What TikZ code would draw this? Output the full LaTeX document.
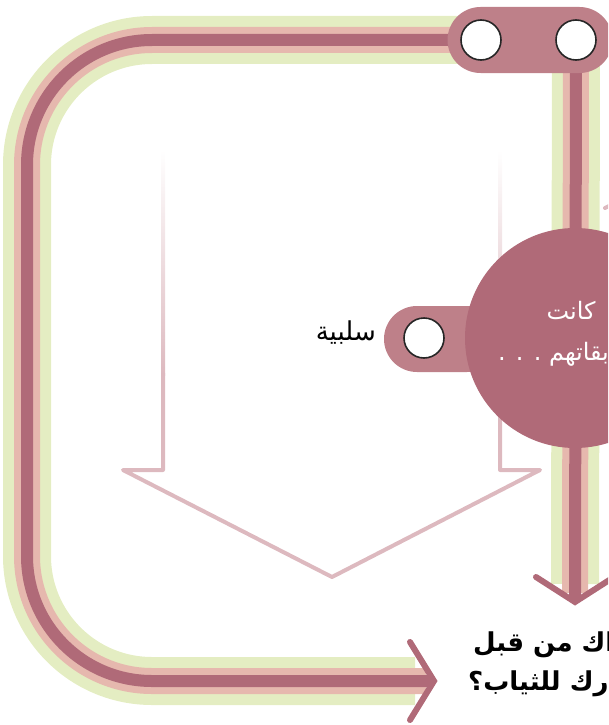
\documentclass[tikz,border=0pt]{standalone}
\usepackage{fontspec}
\usepackage{tikz}
\usetikzlibrary{positioning,backgrounds}
\TeXXeTstate=1
\newfontfamily\arabicfont[Script=Arabic]{DejaVu Sans}
\definecolor{bandgreen}{RGB}{228,237,194}
\definecolor{bandpink}{RGB}{230,184,174}
\definecolor{banddark}{RGB}{176,106,120}
\definecolor{pillrose}{RGB}{190,128,137}
\definecolor{arrowrose}{RGB}{221,185,191}

\begin{document}
\begin{tikzpicture}[x=1pt,y=-1pt,
  greenband/.style={draw=bandgreen, line width=48pt},
  pinkband/.style={draw=bandpink, line width=26pt},
  darkband/.style={draw=banddark, line width=12pt},
  chevron/.style={draw=banddark, line width=6pt, line cap=round, line join=miter},
  pill/.style={fill=pillrose, rounded corners=33pt, minimum height=66pt, inner sep=0pt},
  hole/.style={circle, draw=black!85, line width=1.6pt, fill=white, minimum size=40pt, inner sep=0pt},
  outline/.style={draw=arrowrose, line width=4pt},
  arlabel/.style={inner sep=0pt, font=\arabicfont\fontsize{24}{28}\selectfont}]
  \clip (0,0) rectangle (608,725);

  % big pale arrow in the background, fading out at the top
  \shade[top color=white, bottom color=arrowrose] (161,150) rectangle (165,375);
  \shade[top color=white, bottom color=arrowrose] (498,150) rectangle (502,375);
  \draw[outline, line join=round] (163,373) -- (163,470) -- (123,470) -- (332,577)
    -- (540,470) -- (500,470) -- (500,373);
  \draw[outline, line cap=round] (605,208) -- (615,203);

  % nodes
  \node[pill, minimum width=165pt] (toppill) at (530,40) {};
  \node[hole] (holeA) at (481,40) {};
  \node[hole] (holeB) at (576,40) {};
  \node[pill, minimum width=116pt] (sidepill) at (442,339) {};
  \node[hole] (sidehole) at (424,338) {};
  \node[circle, fill=banddark, minimum size=220pt, inner sep=0pt] (bigcircle) at (575,338) {};
  \node[arlabel, font=\arabicfont\fontsize{26}{30}\selectfont, anchor=east] (negative) at (376,333) {\beginR سلبية\endR};
  \node[arlabel, text=white] (wasline) at (571,310) {\beginR كانت\endR};
  \node[arlabel, text=white, anchor=west] (layerline) at (498,354) {\beginR بقاتهم . . .\endR};
  \node[arlabel, font=\arabicfont\bfseries\fontsize{26}{30}\selectfont, anchor=west] (askline) at (473,645) {\beginR اك من قبل\endR};
  \node[arlabel, font=\arabicfont\bfseries\fontsize{26}{30}\selectfont, anchor=west] (clothline) at (468,684) {\beginR رك للثياب؟\endR};

  \coordinate (cornerNW) at (27,40);
  \coordinate (cornerSW) at (27,681);
  \coordinate (lefttip) at (434,681);
  \coordinate (downtip) at (575,602);

  % striped bands
  \begin{scope}[on background layer]
    \draw[greenband, rounded corners=125pt] (toppill.center) -- (cornerNW) -- (cornerSW) -- ([xshift=-19pt]lefttip);
    \draw[pinkband, rounded corners=125pt] (toppill.center) -- (cornerNW) -- (cornerSW) -- ([xshift=-8pt]lefttip);
    \draw[darkband, rounded corners=125pt] (toppill.center) -- (cornerNW) -- (cornerSW) -- ([xshift=-2pt]lefttip);
    \draw[greenband] (holeB.center) -- ([yshift=18pt]downtip);
    \draw[pinkband] (holeB.center) -- ([yshift=9pt]downtip);
    \draw[darkband] (holeB.center) -- ([yshift=3pt]downtip);
  \end{scope}
  \draw[chevron] ([shift={(-24,-39)}]lefttip) -- (lefttip) -- ([shift={(-24,39)}]lefttip);
  \draw[chevron] ([shift={(-39,-25)}]downtip) -- (downtip) -- ([shift={(39,-25)}]downtip);
\end{tikzpicture}
\end{document}
